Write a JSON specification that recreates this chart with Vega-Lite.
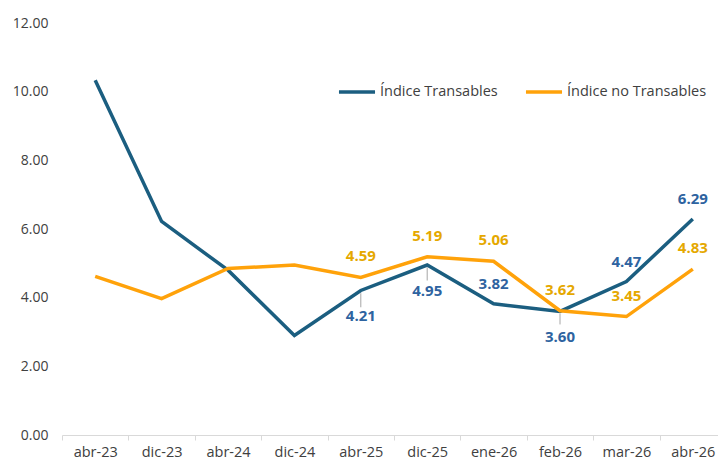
{
  "$schema": "https://vega.github.io/schema/vega-lite/v6.json",
  "autosize": "none",
  "width": 664,
  "height": 412,
  "padding": {"left": 62, "top": 23, "right": 0, "bottom": 29},
  "background": "white",
  "config": {"view": {"stroke": null}, "font": "Open Sans"},
  "datasets": {
    "serie": [
      {"fecha": "abr-23", "serie": "Índice Transables", "valor": 10.33},
      {"fecha": "dic-23", "serie": "Índice Transables", "valor": 6.22},
      {"fecha": "abr-24", "serie": "Índice Transables", "valor": 4.80},
      {"fecha": "dic-24", "serie": "Índice Transables", "valor": 2.90},
      {"fecha": "abr-25", "serie": "Índice Transables", "valor": 4.21},
      {"fecha": "dic-25", "serie": "Índice Transables", "valor": 4.95},
      {"fecha": "ene-26", "serie": "Índice Transables", "valor": 3.82},
      {"fecha": "feb-26", "serie": "Índice Transables", "valor": 3.60},
      {"fecha": "mar-26", "serie": "Índice Transables", "valor": 4.47},
      {"fecha": "abr-26", "serie": "Índice Transables", "valor": 6.29},
      {"fecha": "abr-23", "serie": "Índice no Transables", "valor": 4.62},
      {"fecha": "dic-23", "serie": "Índice no Transables", "valor": 3.97},
      {"fecha": "abr-24", "serie": "Índice no Transables", "valor": 4.85},
      {"fecha": "dic-24", "serie": "Índice no Transables", "valor": 4.95},
      {"fecha": "abr-25", "serie": "Índice no Transables", "valor": 4.59},
      {"fecha": "dic-25", "serie": "Índice no Transables", "valor": 5.19},
      {"fecha": "ene-26", "serie": "Índice no Transables", "valor": 5.06},
      {"fecha": "feb-26", "serie": "Índice no Transables", "valor": 3.62},
      {"fecha": "mar-26", "serie": "Índice no Transables", "valor": 3.45},
      {"fecha": "abr-26", "serie": "Índice no Transables", "valor": 4.83}
    ],
    "guias": [
      {"fecha": "abr-25", "desde": 4.13, "hasta": 3.72},
      {"fecha": "dic-25", "desde": 4.88, "hasta": 4.5},
      {"fecha": "feb-26", "desde": 3.53, "hasta": 3.22}
    ]
  },
  "encoding": {
    "x": {
      "field": "fecha", "type": "nominal",
      "sort": ["abr-23", "dic-23", "abr-24", "dic-24", "abr-25", "dic-25", "ene-26", "feb-26", "mar-26", "abr-26"],
      "scale": {"paddingInner": 0, "paddingOuter": 0},
      "axis": {
        "title": null, "labelAngle": 0, "tickBand": "extent",
        "domainColor": "#D9D9D9", "tickColor": "#D9D9D9", "tickSize": 5,
        "labelColor": "#404040", "labelFontSize": 14.5, "labelPadding": 5,
        "grid": false
      }
    }
  },
  "layer": [
    {
      "data": {"name": "guias"},
      "mark": {"type": "rule", "color": "#A6A6A6", "strokeWidth": 1},
      "encoding": {
        "y": {"field": "desde", "type": "quantitative"},
        "y2": {"field": "hasta"}
      }
    },
    {
      "data": {"name": "serie"},
      "mark": {"type": "line", "strokeWidth": 3.5, "strokeJoin": "miter"},
      "encoding": {
        "y": {
          "field": "valor", "type": "quantitative",
          "scale": {"domain": [0, 12], "nice": false, "zero": true},
          "axis": {
            "title": null, "values": [0, 2, 4, 6, 8, 10, 12], "format": ".2f",
            "domain": false, "ticks": false, "grid": false,
            "labelColor": "#404040", "labelFontSize": 14, "labelPadding": 14
          }
        },
        "color": {
          "field": "serie", "type": "nominal",
          "scale": {"domain": ["Índice Transables", "Índice no Transables"], "range": ["#1B5E80", "#FFA20A"]},
          "legend": {
            "title": null, "orient": "none", "legendX": 275, "legendY": 49,
            "direction": "horizontal", "symbolType": "stroke", "symbolSize": 1300,
            "symbolStrokeWidth": 3.5, "labelFontSize": 14.5, "labelColor": "#404040",
            "labelOffset": 3, "columnPadding": 20
          }
        }
      }
    },
    {
      "data": {"name": "serie"},
      "transform": [
        {"filter": "datum.serie == 'Índice Transables'"},
        {"filter": {"field": "fecha", "oneOf": ["abr-25", "dic-25", "feb-26"]}}
      ],
      "mark": {"type": "text", "dy": 26, "fontWeight": "bold", "fontSize": 15, "color": "#2E63A0"},
      "encoding": {
        "y": {"field": "valor", "type": "quantitative"},
        "text": {"field": "valor", "type": "quantitative", "format": ".2f"}
      }
    },
    {
      "data": {"name": "serie"},
      "transform": [
        {"filter": "datum.serie == 'Índice Transables'"},
        {"filter": {"field": "fecha", "oneOf": ["ene-26", "mar-26", "abr-26"]}}
      ],
      "mark": {"type": "text", "dy": -20, "fontWeight": "bold", "fontSize": 15, "color": "#2E63A0"},
      "encoding": {
        "y": {"field": "valor", "type": "quantitative"},
        "text": {"field": "valor", "type": "quantitative", "format": ".2f"}
      }
    },
    {
      "data": {"name": "serie"},
      "transform": [
        {"filter": "datum.serie == 'Índice no Transables'"},
        {"filter": {"field": "fecha", "oneOf": ["abr-25", "dic-25", "ene-26", "feb-26", "mar-26", "abr-26"]}}
      ],
      "mark": {"type": "text", "dy": -21, "fontWeight": "bold", "fontSize": 15, "color": "#E5A800"},
      "encoding": {
        "y": {"field": "valor", "type": "quantitative"},
        "text": {"field": "valor", "type": "quantitative", "format": ".2f"}
      }
    }
  ]
}
